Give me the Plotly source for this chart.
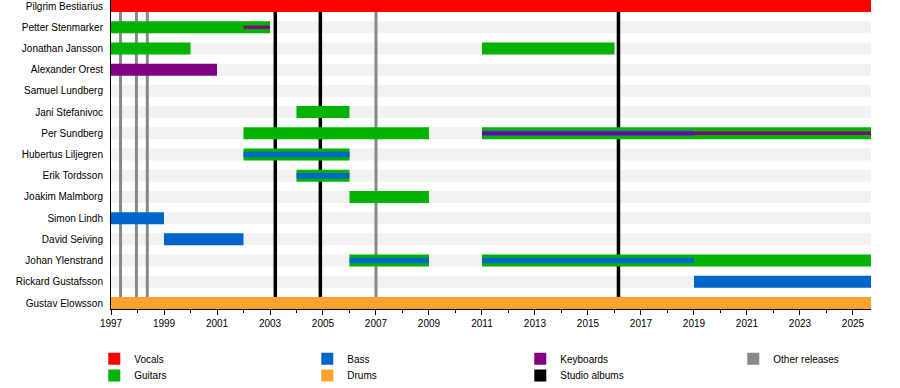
import plotly.graph_objects as go

# ---------------- data ----------------
members = [
    "Pilgrim Bestiarius", "Petter Stenmarker", "Jonathan Jansson", "Alexander Orest",
    "Samuel Lundberg", "Jani Stefanivoc", "Per Sundberg", "Hubertus Liljegren",
    "Erik Tordsson", "Joakim Malmborg", "Simon Lindh", "David Seiving",
    "Johan Ylenstrand", "Rickard Gustafsson", "Gustav Elowsson",
]
timeline_start = 1997.0
timeline_end = 2025.68

vocals = [("Pilgrim Bestiarius", 1997.0, timeline_end)]
guitars = [
    ("Petter Stenmarker", 1997.0, 2003.0),
    ("Jonathan Jansson", 1997.0, 2000.0),
    ("Jonathan Jansson", 2011.0, 2016.0),
    ("Jani Stefanivoc", 2004.0, 2006.0),
    ("Per Sundberg", 2002.0, 2009.0),
    ("Per Sundberg", 2011.0, timeline_end),
    ("Hubertus Liljegren", 2002.0, 2006.0),
    ("Erik Tordsson", 2004.0, 2006.0),
    ("Joakim Malmborg", 2006.0, 2009.0),
    ("Johan Ylenstrand", 2006.0, 2009.0),
    ("Johan Ylenstrand", 2011.0, timeline_end),
]
bass = [
    ("Simon Lindh", 1997.0, 1999.0),
    ("David Seiving", 1999.0, 2002.0),
    ("Rickard Gustafsson", 2019.0, timeline_end),
]
bass_secondary = [
    ("Per Sundberg", 2011.0, 2019.0),
    ("Hubertus Liljegren", 2002.0, 2006.0),
    ("Erik Tordsson", 2004.0, 2006.0),
    ("Johan Ylenstrand", 2006.0, 2009.0),
    ("Johan Ylenstrand", 2011.0, 2019.0),
]
drums = [("Gustav Elowsson", 1997.0, timeline_end)]
keyboards = [("Alexander Orest", 1997.0, 2001.0)]
keyboards_secondary = [
    ("Petter Stenmarker", 2002.0, 2003.0),
    ("Per Sundberg", 2011.0, timeline_end),
]
studio_albums = [2003.2, 2004.9, 2016.15]
other_releases = [1997.36, 1997.96, 1998.37, 2007.0]

# ---------------- styles ----------------
FONT = "Liberation Sans, Arial, sans-serif"
COL = dict(vocals="#ff0000", guitars="#00b300", bass="#0066cc", drums="#ffa32e",
           keyboards="#800080", studio="#000000", other="#888888", band="#f2f2f2")
PLOT_H = 309
pad = 0.283
y_span = (len(members) - 1) + 2 * pad
px_per_row = PLOT_H / y_span
px_per_year = 760 / (timeline_end - timeline_start)
BAR_W = 12 / px_per_row
BASS_W = 5.5 / px_per_row
KEY_W = 3.4 / px_per_row


def hbar(periods, name, color, width, showlegend, rank, legend="legend"):
    return go.Bar(
        orientation="h",
        y=[members.index(m) for m, s, e in periods],
        x=[e - s for m, s, e in periods],
        base=[s for m, s, e in periods],
        width=width,
        marker=dict(color=color, line=dict(width=0)),
        name=name, legendgroup=name, showlegend=showlegend, legendrank=rank,
        legend=legend, hoverinfo="skip",
    )


def vlines(years, name, color, width_px, rank, legend="legend"):
    return go.Bar(
        orientation="v",
        x=years,
        y=[y_span] * len(years),
        base=[-pad] * len(years),
        width=width_px / px_per_year,
        marker=dict(color=color, line=dict(width=0)),
        name=name, legendgroup=name, showlegend=True, legendrank=rank,
        legend=legend, hoverinfo="skip",
    )


fig = go.Figure()
# background bands
fig.add_trace(go.Bar(
    orientation="h",
    y=list(range(len(members))),
    x=[timeline_end - timeline_start] * len(members),
    base=[timeline_start] * len(members),
    width=BAR_W,
    marker=dict(color=COL["band"], line=dict(width=0)),
    showlegend=False, hoverinfo="skip",
))
fig.add_trace(vlines(other_releases, "Other releases", COL["other"], 3, 4, "legend"))
fig.add_trace(vlines(studio_albums, "Studio albums", COL["studio"], 3.5, 7, "legend2"))
fig.add_trace(hbar(vocals, "Vocals", COL["vocals"], BAR_W, True, 1, "legend"))
fig.add_trace(hbar(guitars, "Guitars", COL["guitars"], BAR_W, True, 5, "legend2"))
fig.add_trace(hbar(drums, "Drums", COL["drums"], BAR_W, True, 6, "legend2"))
fig.add_trace(hbar(bass, "Bass", COL["bass"], BAR_W, True, 2, "legend"))
fig.add_trace(hbar(keyboards, "Keyboards", COL["keyboards"], BAR_W, True, 3, "legend"))
fig.add_trace(hbar(bass_secondary, "Bass", COL["bass"], BASS_W, False, 2, "legend"))
fig.add_trace(hbar(keyboards_secondary, "Keyboards", COL["keyboards"], KEY_W, False, 3, "legend"))

legend_common = dict(
    orientation="h", x=-0.022, xanchor="left", yanchor="top",
    entrywidth=168, entrywidthmode="pixels", itemwidth=30,
    traceorder="normal", bgcolor="rgba(0,0,0,0)",
    font=dict(family=FONT, size=10, color="black"),
    itemclick=False, itemdoubleclick=False,
)

fig.update_layout(
    width=900, height=388, autosize=False,
    margin=dict(l=111, r=29, t=0, b=79, pad=0, autoexpand=False),
    barmode="overlay",
    plot_bgcolor="white", paper_bgcolor="white",
    font=dict(family=FONT, size=10, color="black"),
    showlegend=True,
    legend=dict(y=-0.114, **legend_common),
    legend2=dict(y=-0.168, **legend_common),
    xaxis=dict(
        range=[timeline_start, timeline_end], autorange=False,
        tickmode="linear", tick0=1997, dtick=2,
        ticks="outside", ticklen=5, tickwidth=1, tickcolor="black",
        minor=dict(dtick=1, ticks="outside", ticklen=3, tickwidth=1, tickcolor="black", showgrid=False),
        showline=True, linecolor="black", linewidth=1,
        showgrid=False, zeroline=False,
        tickfont=dict(family=FONT, size=10, color="black"),
    ),
    yaxis=dict(
        range=[len(members) - 1 + pad, -pad], autorange=False,
        tickmode="array", tickvals=list(range(len(members))), ticktext=members,
        ticks="", showline=True, linecolor="black", linewidth=1,
        showgrid=False, zeroline=False, ticklabelstandoff=5,
        tickfont=dict(family=FONT, size=10, color="black"),
    ),
)

fig.write_html("out.html", config={"displayModeBar": False},
               post_script="document.body.style.margin='0';")
